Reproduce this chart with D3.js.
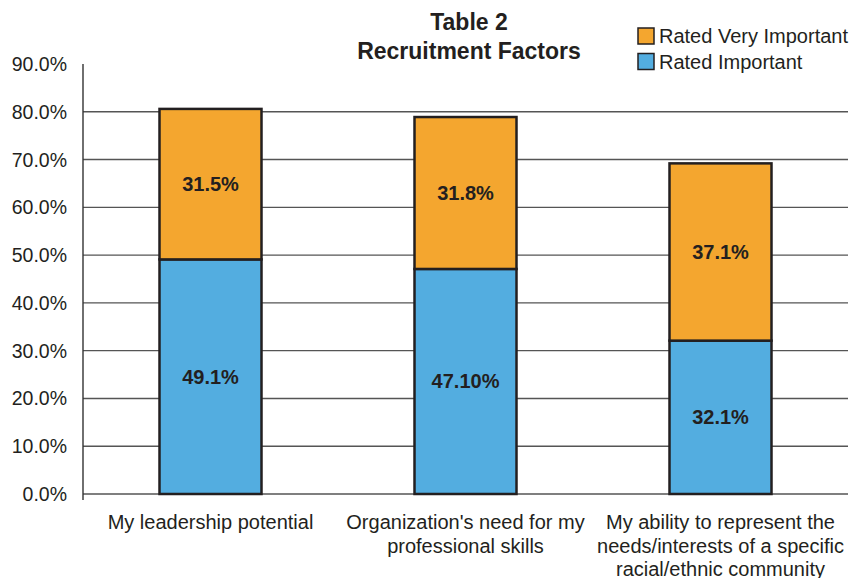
<!DOCTYPE html>
<html>
<head>
<meta charset="utf-8">
<script src="https://cdn.jsdelivr.net/npm/d3@7"></script>
<style>
  body { margin: 0; background: #fff; }
  text { font-family: "Liberation Sans", Arial, sans-serif; fill: #231f20; }
</style>
</head>
<body>
<script>
const width = 854;
const height = 578;

const categories = [
  ["My leadership potential"],
  ["Organization's need for my", "professional skills"],
  ["My ability to represent the", "needs/interests of a specific", "racial/ethnic community"]
];
const important = [49.1, 47.1, 32.1];
const veryImportant = [31.5, 31.8, 37.1];
const importantLabels = ["49.1%", "47.10%", "32.1%"];
const veryImportantLabels = ["31.5%", "31.8%", "37.1%"];
const yTicks = [0, 10, 20, 30, 40, 50, 60, 70, 80, 90];
const seriesNames = ["Rated Very Important", "Rated Important"];
const colors = { important: "#53ade0", very: "#f4a62f" };

const margin = { left: 83, right: 6, top: 64, bottom: 84 };

const x = d3.scaleBand()
  .domain(d3.range(categories.length))
  .range([margin.left, width - margin.right])
  .paddingInner(0.6)
  .paddingOuter(0.3);

const y = d3.scaleLinear()
  .domain([0, 90])
  .range([height - margin.bottom, margin.top]);

const svg = d3.select('body').append('svg')
  .attr('width', width)
  .attr('height', height);

// grid lines
svg.append('g')
  .selectAll('line')
  .data(yTicks.filter(d => d > 0 && d < 90))
  .enter()
  .append('line')
  .attr('x1', margin.left)
  .attr('x2', width - margin.right)
  .attr('y1', d => y(d))
  .attr('y2', d => y(d))
  .attr('stroke', '#555')
  .attr('stroke-width', 1.4);

// baseline + left axis
svg.append('line')
  .attr('x1', margin.left).attr('x2', width - margin.right)
  .attr('y1', y(0)).attr('y2', y(0))
  .attr('stroke', '#555').attr('stroke-width', 1.4);
svg.append('line')
  .attr('x1', margin.left).attr('x2', margin.left)
  .attr('y1', y(90)).attr('y2', y(0) + 6)
  .attr('stroke', '#333').attr('stroke-width', 1.4);

// tick labels
svg.append('g')
  .selectAll('text')
  .data(yTicks)
  .enter()
  .append('text')
  .attr('x', 67)
  .attr('y', d => y(d) + 7)
  .attr('text-anchor', 'end')
  .style('font-size', '19.5px')
  .text(d => d.toFixed(1) + '%');

// bars
const bars = svg.append('g');
bars.selectAll('.imp')
  .data(important)
  .enter()
  .append('rect')
  .attr('class', 'imp')
  .attr('x', (d, i) => x(i))
  .attr('width', x.bandwidth())
  .attr('y', d => y(d))
  .attr('height', d => y(0) - y(d))
  .attr('fill', colors.important)
  .attr('stroke', '#231f20')
  .attr('stroke-width', 2.5);

bars.selectAll('.very')
  .data(veryImportant)
  .enter()
  .append('rect')
  .attr('class', 'very')
  .attr('x', (d, i) => x(i))
  .attr('width', x.bandwidth())
  .attr('y', (d, i) => y(important[i] + d))
  .attr('height', (d, i) => y(important[i]) - y(important[i] + d))
  .attr('fill', colors.very)
  .attr('stroke', '#231f20')
  .attr('stroke-width', 2.5);

// value labels
svg.append('g')
  .selectAll('text')
  .data(important)
  .enter()
  .append('text')
  .attr('x', (d, i) => x(i) + x.bandwidth() / 2)
  .attr('y', d => y(d / 2) + 7)
  .attr('text-anchor', 'middle')
  .style('font-size', '20px')
  .style('font-weight', 'bold')
  .text((d, i) => importantLabels[i]);

svg.append('g')
  .selectAll('text')
  .data(veryImportant)
  .enter()
  .append('text')
  .attr('x', (d, i) => x(i) + x.bandwidth() / 2)
  .attr('y', (d, i) => y(important[i] + d / 2) + 7)
  .attr('text-anchor', 'middle')
  .style('font-size', '20px')
  .style('font-weight', 'bold')
  .text((d, i) => veryImportantLabels[i]);

// category labels
const cat = svg.append('g')
  .selectAll('text')
  .data(categories)
  .enter()
  .append('text')
  .attr('text-anchor', 'middle')
  .style('font-size', '20px');
cat.selectAll('tspan')
  .data((d, i) => d.map(t => ({ t, i })))
  .enter()
  .append('tspan')
  .attr('x', d => x(d.i) + x.bandwidth() / 2)
  .attr('y', (d, j) => 529 + j * 23.5)
  .text(d => d.t);

// title
svg.append('text')
  .attr('x', 469).attr('y', 30)
  .attr('text-anchor', 'middle')
  .style('font-size', '23px').style('font-weight', 'bold')
  .text('Table 2');
svg.append('text')
  .attr('x', 469).attr('y', 59)
  .attr('text-anchor', 'middle')
  .style('font-size', '23px').style('font-weight', 'bold')
  .text('Recruitment Factors');

// legend
const legend = svg.append('g')
  .selectAll('g')
  .data(seriesNames)
  .enter()
  .append('g')
  .attr('transform', (d, i) => `translate(638, ${28 + i * 25.5})`);
legend.append('rect')
  .attr('width', 16).attr('height', 16)
  .attr('fill', (d, i) => i === 0 ? colors.very : colors.important)
  .attr('stroke', '#231f20').attr('stroke-width', 1.5);
legend.append('text')
  .attr('x', 21).attr('y', 15)
  .style('font-size', '20px')
  .text(d => d);
</script>
</body>
</html>
